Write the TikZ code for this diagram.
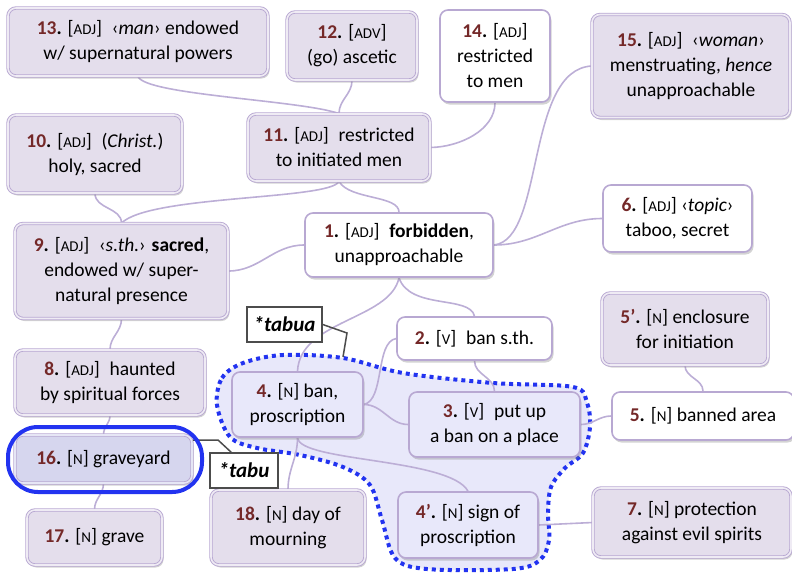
\documentclass[tikz,border=0pt]{standalone}
\usepackage{fontspec}
\setmainfont{Carlito}
\usetikzlibrary{shadows}
\definecolor{lavfill}{HTML}{E4DEEC}
\definecolor{lavline}{HTML}{B8A8D2}
\definecolor{connc}{HTML}{BCAED6}
\definecolor{numred}{HTML}{742828}
\definecolor{bluefill}{HTML}{E8E8FA}
\definecolor{regfill}{HTML}{E8E8FA}
\definecolor{regline}{HTML}{2233F0}
\definecolor{gravefill}{HTML}{D6D6EE}
\pgfdeclarelayer{back}\pgfdeclarelayer{mid}\pgfsetlayers{back,mid,main}
\newcommand{\nrr}[1]{\textbf{\textcolor{numred}{#1}.}}
\newcommand{\wcl}[1]{[{\fontsize{15}{15}\selectfont #1}]}
\begin{document}
\begin{tikzpicture}[x=1pt,y=-1pt,
 base/.style={rounded corners=8pt, align=center, inner sep=0pt, font=\fontsize{19.5}{25}\selectfont, drop shadow={opacity=0.35, shadow xshift=1.5pt, shadow yshift=-2.5pt}},
 lav/.style={base, fill=lavfill, draw=lavline, line width=0.9pt, double=lavfill!60!white, double distance=1.6pt},
 wht/.style={base, fill=white, draw=lavline, line width=1.6pt},
 blu/.style={base, fill=bluefill, draw=lavline, line width=1.6pt},
 conn/.style={draw=connc, line width=1.6pt},
 tag/.style={draw=black!70, line width=1.5pt, fill=white, font=\fontsize{21}{21}\selectfont\bfseries\itshape, inner sep=0pt},
 callout/.style={draw=black!70, line width=1.5pt},
 region/.style={fill=regfill, draw=regline, line width=4pt, dash pattern=on 4pt off 4pt},
]
\useasboundingbox (0,0) rectangle (792,574);

\node[lav, minimum width=260pt, minimum height=68pt] (n13) at (138,42) {\nrr{13} \wcl{ADJ}\enspace‹\textit{man}› endowed\\w/ supernatural powers};
\node[lav, minimum width=130pt, minimum height=68pt] (n12) at (352,46) {\nrr{12} \wcl{ADV}\\(go) ascetic};
\node[wht, minimum width=110pt, minimum height=92pt] (n14) at (495,56) {\nrr{14} \wcl{ADJ}\\restricted\\to men};
\node[lav, minimum width=198pt, minimum height=103pt] (n15) at (691,66) {\nrr{15} \wcl{ADJ}\enspace‹\textit{woman}›\\menstruating, \textit{hence}\\unapproachable};
\node[lav, minimum width=182pt, minimum height=67pt] (n11) at (339,147.5) {\nrr{11} \wcl{ADJ}\enspace restricted\\to initiated men};
\node[lav, minimum width=174pt, minimum height=78pt] (n10) at (95,154) {\nrr{10} \wcl{ADJ}\enspace(\textit{Christ.})\\holy, sacred};
\node[wht, minimum width=188pt, minimum height=64pt] (n1) at (399,245) {\nrr{1} \wcl{ADJ}\enspace\textbf{forbidden},\\unapproachable};
\node[lav, minimum width=213pt, minimum height=95pt] (n9) at (121.5,271) {\nrr{9} \wcl{ADJ}\enspace‹\textit{s.th.}› \textbf{sacred},\\endowed w/ super-\\natural presence};
\node[wht, minimum width=149pt, minimum height=67pt] (n6) at (677.5,218.5) {\nrr{6} \wcl{ADJ} ‹\textit{topic}›\\taboo, secret};
\node[lav, minimum width=166pt, minimum height=72pt] (n5p) at (685,329) {\nrr{5’} \wcl{N} enclosure\\for initiation};
\node[wht, minimum width=155pt, minimum height=43pt] (n2) at (474.5,338.5) {\nrr{2} \wcl{V}\enspace ban s.th.};
\node[blu, minimum width=131pt, minimum height=65pt] (n4) at (297.5,404.5) {\nrr{4} \wcl{N} ban,\\proscription};
\node[blu, minimum width=171pt, minimum height=65pt] (n3) at (494.5,424.5) {\nrr{3} \wcl{V}\enspace put up\\a ban on a place};
\node[wht, minimum width=182pt, minimum height=48pt] (n5) at (703,416) {\nrr{5} \wcl{N} banned area};
\node[lav, minimum width=190pt, minimum height=65pt] (n8) at (110,382.5) {\nrr{8} \wcl{ADJ}\enspace haunted\\by spiritual forces};
\node[lav, fill=gravefill, double=gravefill!60!white, minimum width=177pt, minimum height=48pt] (n16) at (103.5,459) {\nrr{16} \wcl{N} graveyard};
\node[lav, minimum width=135pt, minimum height=55pt] (n17) at (94.5,537.5) {\nrr{17} \wcl{N} grave};
\node[lav, minimum width=154pt, minimum height=75pt] (n18) at (288,527.5) {\nrr{18} \wcl{N} day of\\mourning};
\node[blu, minimum width=140pt, minimum height=66pt] (n4p) at (468,525) {\nrr{4’} \wcl{N} sign of\\proscription};
\node[lav, minimum width=198pt, minimum height=69pt] (n7) at (692,522.5) {\nrr{7} \wcl{N} protection\\against evil spirits};

\node[tag, minimum width=75pt, minimum height=35pt] (tabua) at (284.5,324.5) {*tabua};
\node[tag, minimum width=68pt, minimum height=35pt] (tabu) at (244,470.5) {*tabu};
\coordinate (tabuaend) at (343,357);
\coordinate (tabuend) at (193,440);
\draw[callout] (tabua.east) -- (347,333) -- (tabuaend);
\draw[callout] (tabu.125) -- (218,440) -- (tabuend);

\draw[regline, line width=4pt, rounded corners=30pt] (8,427) rectangle (202,492);

\begin{pgfonlayer}{back}
\path[region] plot[smooth cycle, tension=0.55] coordinates {(217,405) (222,378) (243,363) (283,355) (343,358) (403,373) (493,383) (573,387) (587,403) (590,427) (583,453) (565,468) (551,487) (548,513) (549,540) (540,560) (513,569) (427,569) (395,558) (382,520) (370,485) (343,467) (300,455) (257,448) (230,437)};
\end{pgfonlayer}

\begin{pgfonlayer}{mid}
\draw[conn] (n13.south) .. controls (145,95) and (300,100) .. (n11.north);
\draw[conn] (n12.south) to[out=-90,in=90] (n11.north);
\draw[conn] (n14.south) .. controls (495,130) and (460,147) .. (n11.east);
\draw[conn] (n11.south) .. controls (330,200) and (150,195) .. (n9.north);
\draw[conn] (n11.south) .. controls (350,200) and (399,195) .. (n1.north);
\draw[conn] (n10.south) to[out=-90,in=90] (n9.north);
\draw[conn] (n9.east) to[out=0,in=180] (n1.west);
\draw[conn] (n1.east) .. controls (545,240) and (525,70) .. (n15.west);
\draw[conn] (n1.east) to[out=0,in=180] (n6.west);
\draw[conn] (n1.south) .. controls (390,320) and (300,320) .. (n4.north);
\draw[conn] (n1.south) .. controls (410,310) and (470,295) .. (n2.north);
\draw[conn] (n2.south) to[out=-90,in=90] (n3.north);
\draw[conn] (n2.west) .. controls (375,342) and (385,400) .. (n4.east);
\draw[conn] (n4.east) to[out=0,in=180] (n3.west);
\draw[conn] (n4.south) .. controls (300,462) and (450,458) .. (n4p.north);
\draw[conn] (n4.south) to[out=-90,in=90] (n18.north);
\draw[conn] (n3.east) to[out=0,in=180] (n5.west);
\draw[conn] (n5p.south) to[out=-90,in=90] (n5.north);
\draw[conn] (n4p.east) -- (n7.west);
\draw[conn] (n9.south) to[out=-90,in=90] (n8.north);
\draw[conn] (n8.south) to[out=-90,in=90] (n16.north);
\draw[conn] (n16.south) to[out=-90,in=90] (n17.north);
\end{pgfonlayer}
\end{tikzpicture}
\end{document}
